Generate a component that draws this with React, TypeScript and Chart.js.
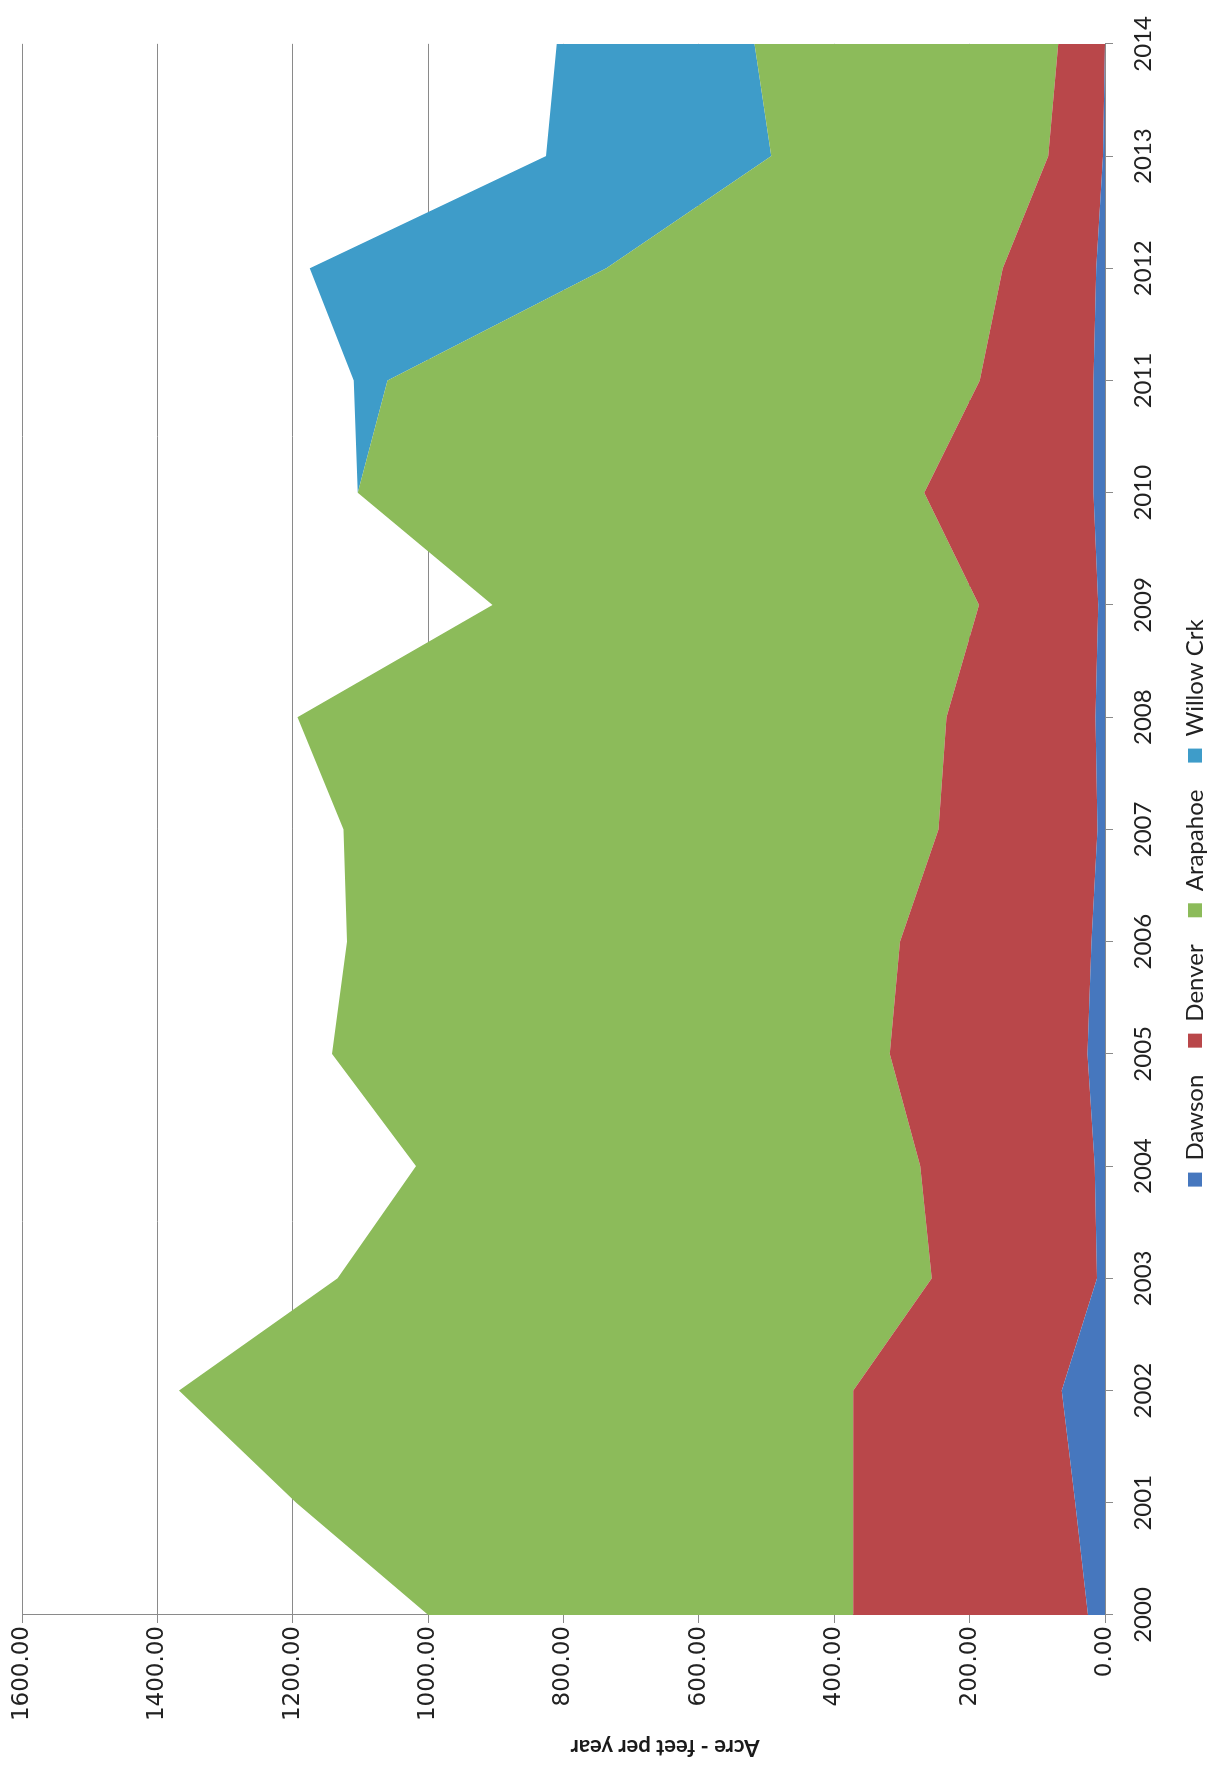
import React, { useEffect, useRef } from 'react';
import { Chart, registerables } from 'chart.js';

Chart.register(...registerables);

// ---- data ----
const years = ['2000', '2001', '2002', '2003', '2004', '2005', '2006', '2007', '2008', '2009', '2010', '2011', '2012', '2013', '2014'];
const dawson = [25, 44, 64, 12, 15, 26, 20, 11, 14, 10, 17, 17, 13, 3, 0];
const denver = [347, 328, 308, 244, 258, 292, 283, 235, 220, 176, 250, 168, 138, 81, 69];
const arapahoe = [628, 823, 996, 878, 745, 824, 817, 879, 959, 719, 837, 875, 586, 409, 449];
const willowCrk = [0, 0, 0, 0, 0, 0, 0, 0, 0, 0, 0, 50, 438, 333, 292];
const seriesNames = ['Dawson', 'Denver', 'Arapahoe', 'Willow Crk'];
const valueMin = 0;
const valueMax = 1600;
const valueStep = 200;
const valueTitle = 'Acre - feet per year';

// ---- styling ----
const seriesColors = ['#4677BE', '#B9474A', '#8CBB5A', '#3E9CC9'];
const CW = 1769; // unrotated canvas width  (becomes page height)
const CH = 1217; // unrotated canvas height (becomes page width)
const gridColor = '#8a8a8a';

export default function App() {
  const ref = useRef<HTMLCanvasElement | null>(null);

  useEffect(() => {
    if (!ref.current) return;
    const seriesData = [dawson, denver, arapahoe, willowCrk];

    const axisTitlePlugin = {
      id: 'axisTitle',
      afterDraw(chart: any) {
        const ctx = chart.ctx;
        ctx.save();
        ctx.translate(22, 665);
        ctx.rotate(-Math.PI / 2);
        ctx.font = 'bold 22px Lato';
        ctx.fillStyle = '#1a1a1a';
        ctx.textAlign = 'center';
        ctx.textBaseline = 'middle';
        ctx.fillText(valueTitle, 0, 0);
        ctx.restore();
      },
    };

    const chart = new Chart(ref.current, {
      type: 'line',
      data: {
        labels: years,
        datasets: seriesNames.map((name, i) => ({
          label: name,
          data: seriesData[i],
          backgroundColor: seriesColors[i],
          borderColor: seriesColors[i],
          borderWidth: 0,
          pointRadius: 0,
          tension: 0,
          fill: i === 0 ? 'origin' : '-1',
        })),
      },
      options: {
        animation: false,
        responsive: false,
        devicePixelRatio: 1,
        layout: { padding: { left: 0, right: 37, top: 22, bottom: 0 } },
        plugins: {
          tooltip: { enabled: false },
          legend: {
            position: 'bottom',
            labels: {
              boxWidth: 14,
              boxHeight: 14,
              padding: 27,
              color: '#222',
              font: { family: 'Lato', size: 24 },
            },
          },
        },
        scales: {
          x: {
            type: 'category',
            offset: false,
            grid: { display: true, drawOnChartArea: false, drawTicks: true, tickLength: 8, color: gridColor },
            border: { display: true, color: gridColor },
            ticks: {
              color: '#222',
              font: { family: 'Lato', size: 24 },
              padding: 16,
              maxRotation: 0,
              autoSkip: false,
            },
            afterFit: (s: any) => { s.height = 51; },
          },
          y: {
            stacked: true,
            min: valueMin,
            max: valueMax,
            grid: { color: gridColor, tickLength: 8, drawTicks: true },
            border: { display: true, color: gridColor },
            ticks: {
              stepSize: valueStep,
              color: '#222',
              padding: 3,
              font: { family: 'DejaVu Sans', size: 23 },
              callback: (v: any) => Number(v).toFixed(2),
            },
            afterFit: (s: any) => { s.width = 154; },
          },
        },
      },
      plugins: [axisTitlePlugin],
    } as any);

    return () => chart.destroy();
  }, []);

  return (
    <div style={{ position: 'absolute', left: 0, top: 0, width: CH, height: CW, overflow: 'hidden', background: '#fff' }}>
      <div
        style={{
          position: 'absolute',
          left: 0,
          top: 0,
          width: CW,
          height: CH,
          transformOrigin: '0 0',
          transform: `translateY(${CW}px) rotate(-90deg)`,
        }}
      >
        <canvas ref={ref} width={CW} height={CH} style={{ width: CW, height: CH, display: 'block' }} />
      </div>
    </div>
  );
}
